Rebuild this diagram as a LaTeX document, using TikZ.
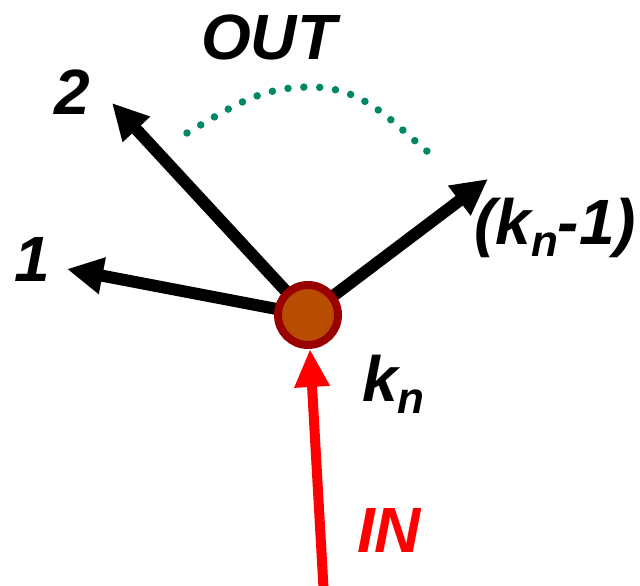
\documentclass[tikz,border=0pt]{standalone}
\usepackage{fontspec}
\setmainfont{Liberation Sans}
\usetikzlibrary{arrows.meta}
\definecolor{nodefill}{RGB}{184,76,0}
\definecolor{nodeborder}{RGB}{153,0,0}
\definecolor{dotgreen}{RGB}{0,135,100}
\definecolor{inred}{RGB}{255,0,0}
\begin{document}
\begin{tikzpicture}[x=1pt,y=1pt,
  outarrow/.style={line width=12pt,-{Triangle[length=36pt,width=35pt]}},
  inarrow/.style={line width=10pt,inred,-{Triangle[length=38pt,width=33pt]}},
  lbl/.style={inner sep=0pt,anchor=base west,font=\fontsize{64}{70}\selectfont\bfseries\itshape},
  hub/.style={circle,minimum size=60pt,inner sep=0pt,line width=8pt,draw=nodeborder,fill=nodefill},
  dotarc/.style={dotgreen,line width=7.5pt,line cap=round,dash pattern=on 0pt off 15.9pt}]
\useasboundingbox (0,0) rectangle (640,586);
\coordinate (o) at (308,271);
\coordinate (t1) at (67,317);
\coordinate (t2) at (112,483);
\coordinate (t3) at (488,407);
\coordinate (s) at (323.5,-2);
\coordinate (a) at (187,453);
\coordinate (p) at (310,499);
\coordinate (b) at (434,429);
\draw[outarrow] (o) -- (t1);
\draw[outarrow] (o) -- (t2);
\draw[outarrow] (o) -- (t3);
\node[hub] (c) at (o) {};
\draw[inarrow] (s) -- (c);
\draw[dotarc] (a) to[out=30,in=180] (p) to[out=0,in=141] (b);
\node[lbl] (lout) at (201,526) {OUT};
\node[lbl] (l2) at (54,471) {2};
\node[lbl] (l1) at (14,304) {1};
\node[lbl] (lk1) at (474,341) {(k\raisebox{-12pt}{\fontsize{44}{48}\selectfont n}-1)};
\node[lbl] (lk) at (362,184) {k\raisebox{-12pt}{\fontsize{44}{48}\selectfont n}};
\node[lbl,text=inred] (lin) at (357,33) {IN};
\end{tikzpicture}
\end{document}
